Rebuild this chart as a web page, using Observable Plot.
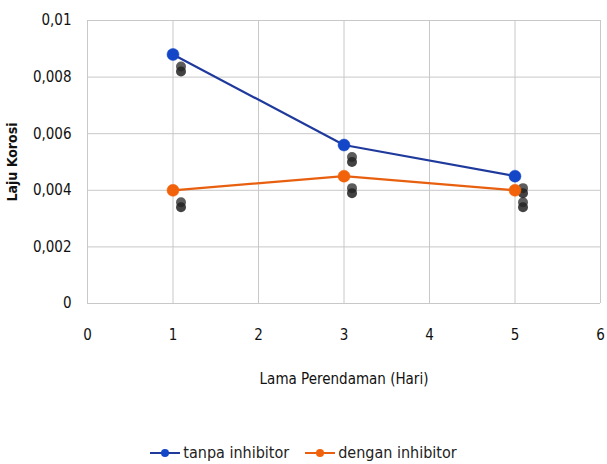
<!DOCTYPE html>
<html>
<head>
<meta charset="utf-8">
<script src="https://cdn.jsdelivr.net/npm/d3@7"></script>
<script src="https://cdn.jsdelivr.net/npm/@observablehq/plot@0.6"></script>
<style>
  body { margin: 0; background: #fff; font-family: "DejaVu Sans", sans-serif; font-stretch: condensed; }
  #chart { width: 607px; height: 464px; position: relative; }
  svg text { font-stretch: condensed; }
  .legend { position: absolute; top: 443px; left: 0; width: 607px; display: flex; justify-content: center; gap: 16px; font-size: 16px; color: #222; font-stretch: condensed; }
  .legend .item { display: flex; align-items: center; gap: 3px; }
</style>
</head>
<body>
<div id="chart"></div>
<script>
const days = [1, 3, 5];
const tanpaInhibitor = [0.0088, 0.0056, 0.0045];
const denganInhibitor = [0.0040, 0.0045, 0.0040];
const seriesNames = ["tanpa inhibitor", "dengan inhibitor"];
const seriesColors = ["#1f3a9c", "#e8600f"];
const dotColors = ["#1446c8", "#f2620a"];
const xTicks = [0, 1, 2, 3, 4, 5, 6];
const yTicks = [0, 0.002, 0.004, 0.006, 0.008, 0.01];

const rows = [];
days.forEach((d, i) => {
  rows.push({day: d, value: tanpaInhibitor[i], series: seriesNames[0]});
  rows.push({day: d, value: denganInhibitor[i], series: seriesNames[1]});
});
const colorOf = s => seriesColors[seriesNames.indexOf(s)];
const dotOf = s => dotColors[seriesNames.indexOf(s)];
const fmt = v => v === 0 ? "0" : String(+v.toFixed(3)).replace(".", ",");

const plot = Plot.plot({
  width: 607,
  height: 400,
  marginLeft: 87,
  marginRight: 7,
  marginTop: 20,
  marginBottom: 97,
  style: { fontFamily: '"DejaVu Sans", sans-serif', fontSize: "15px", color: "#111", background: "#fff" },
  x: { domain: [0, 6], ticks: xTicks, tickFormat: d => String(d), tickSize: 0, tickPadding: 26, label: null },
  y: { domain: [0, 0.01], ticks: yTicks, tickFormat: fmt, tickSize: 0, tickPadding: 16, label: null },
  marks: [
    Plot.gridX(xTicks, { stroke: "#c8c8c8", strokeOpacity: 1, strokeWidth: 1 }),
    Plot.gridY(yTicks, { stroke: "#c8c8c8", strokeOpacity: 1, strokeWidth: 1 }),
    Plot.dot(rows, { x: "day", y: "value", r: 5, fill: "#333", fillOpacity: 0.8, dx: 8, dy: 12, ariaLabel: "shadow" }),
    Plot.dot(rows, { x: "day", y: "value", r: 5, fill: "#222", fillOpacity: 0.85, dx: 8, dy: 17, ariaLabel: "shadow" }),
    Plot.line(rows, { x: "day", y: "value", z: "series", stroke: d => colorOf(d.series), strokeWidth: 2.2 }),
    Plot.dot(rows, { x: "day", y: "value", r: 6, fill: d => dotOf(d.series), stroke: d => dotOf(d.series), strokeWidth: 0.5 }),
    Plot.text(["Lama Perendaman (Hari)"], { frameAnchor: "bottom", dy: 80, fontSize: 15, fill: "#111" }),
    Plot.text(["Laju Korosi"], { frameAnchor: "left", textAnchor: "middle", dx: -75, rotate: -90, fontSize: 14, fontWeight: "bold", fill: "#111" })
  ]
});
// soft blur on marker shadows
const svg = d3.select(plot);
svg.insert("defs", ":first-child").html('<filter id="soft" x="-50%" y="-50%" width="200%" height="200%"><feGaussianBlur stdDeviation="1.6"/></filter>');
svg.selectAll('g[aria-label="shadow"]').attr("filter", "url(#soft)");
document.getElementById("chart").appendChild(plot);

const legend = document.createElement("div");
legend.className = "legend";
seriesNames.forEach((name, i) => {
  const item = document.createElement("div");
  item.className = "item";
  item.innerHTML = `<svg width="30" height="12"><line x1="0" y1="6" x2="30" y2="6" stroke="${seriesColors[i]}" stroke-width="2"/><circle cx="15" cy="6" r="4" fill="${dotColors[i]}"/></svg><span>${name}</span>`;
  legend.appendChild(item);
});
document.getElementById("chart").appendChild(legend);
</script>
</body>
</html>
